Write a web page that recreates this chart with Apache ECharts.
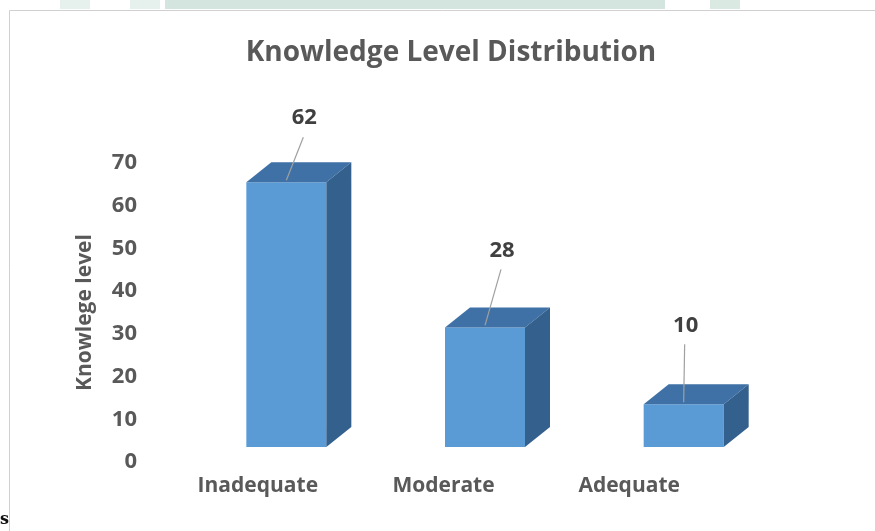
<!DOCTYPE html>
<html>
<head>
<meta charset="utf-8">
<script src="https://cdn.jsdelivr.net/npm/echarts@6/dist/echarts.min.js"></script>
<style>
html,body{margin:0;padding:0;background:#fff;}
#chart{width:875px;height:531px;}
</style>
</head>
<body>
<div id="chart"></div>
<script>
// ---- data ----
const categories = ['Inadequate', 'Moderate', 'Adequate'];
const values = [62, 28, 10];
const yTicks = [0, 10, 20, 30, 40, 50, 60, 70];
const titleText = 'Knowledge Level Distribution';
const yAxisName = 'Knowlege level';

// ---- layout / style ----
const FONT = '"Open Sans", "Noto Sans", sans-serif';
const FRONT = '#5b9bd5', TOP = '#3f71a6', SIDE = '#34608e';
const BAR_W = 80, DX = 25, DY = -20, FLOOR_SHIFT = -15;
const labelNudge = [[18, -64], [17, -77], [2, -79]];

const chart = echarts.init(document.getElementById('chart'));

function renderItem(params, api) {
  const i = api.value(0);
  const v = api.value(1);
  const base = api.coord([i, 0]);
  const top = api.coord([i, v]);
  const cx = base[0];
  const x0 = cx - BAR_W / 2, x1 = cx + BAR_W / 2;
  const yb = base[1] + FLOOR_SHIFT, yt = top[1] + FLOOR_SHIFT;
  const lx = cx + labelNudge[i][0], ly = yt + labelNudge[i][1];
  return {
    type: 'group',
    children: [
      { type: 'polygon', shape: { points: [[x0, yt], [x1, yt], [x1, yb], [x0, yb]] }, style: { fill: FRONT } },
      { type: 'polygon', shape: { points: [[x0, yt], [x0 + DX, yt + DY], [x1 + DX, yt + DY], [x1, yt]] }, style: { fill: TOP } },
      { type: 'polygon', shape: { points: [[x1, yt], [x1 + DX, yt + DY], [x1 + DX, yb + DY], [x1, yb]] }, style: { fill: SIDE } },
      { type: 'line', shape: { x1: lx - 1, y1: ly + 19, x2: cx, y2: yt - 2 }, style: { stroke: '#a0a0a0', lineWidth: 1.2 } },
      { type: 'text', style: { text: String(v), x: lx, y: ly, align: 'center', verticalAlign: 'middle', fill: '#404040', font: 'bold 22px ' + FONT } }
    ]
  };
}

const option = {
  animation: false,
  backgroundColor: '#ffffff',
  title: {
    text: titleText,
    left: 446, top: 34, textAlign: 'center',
    textStyle: { fontFamily: FONT, fontWeight: 'bold', fontSize: 28, color: '#595959' }
  },
  grid: [
    { left: 187, right: 92, top: 163, bottom: 69 },
    { left: 165, right: 153, top: 163, bottom: 69 }
  ],
  xAxis: [
    { type: 'category', gridIndex: 0, data: categories, axisLine: { show: false }, axisTick: { show: false }, axisLabel: { show: false } },
    { type: 'category', gridIndex: 1, data: categories, axisLine: { show: false }, axisTick: { show: false },
      axisLabel: { margin: 14, color: '#595959', fontFamily: FONT, fontWeight: 'bold', fontSize: 21 } }
  ],
  yAxis: [
    { type: 'value', gridIndex: 0, min: 0, max: 70, interval: 10,
      axisLine: { show: false }, axisTick: { show: false }, splitLine: { show: false },
      axisLabel: { margin: 50, color: '#595959', fontFamily: FONT, fontWeight: 'bold', fontSize: 22,
        formatter: function (val) { return yTicks.indexOf(val) >= 0 ? String(val) : ''; } },
      name: yAxisName, nameLocation: 'middle', nameGap: 91, nameRotate: 90,
      nameTextStyle: { color: '#595959', fontFamily: FONT, fontWeight: 'bold', fontSize: 21 } },
    { type: 'value', gridIndex: 1, min: 0, max: 70, show: false }
  ],
  series: [{
    type: 'custom',
    xAxisIndex: 0, yAxisIndex: 0,
    renderItem: renderItem,
    data: values.map(function (v, i) { return [i, v]; }),
    clip: false
  }],
  graphic: [
    { type: 'rect', shape: { x: 165, y: 0, width: 500, height: 9 }, style: { fill: '#d3e5de' } },
    { type: 'rect', shape: { x: 60, y: 0, width: 30, height: 9 }, style: { fill: '#e6f0ec' } },
    { type: 'rect', shape: { x: 130, y: 0, width: 30, height: 9 }, style: { fill: '#e6f0ec' } },
    { type: 'rect', shape: { x: 710, y: 0, width: 30, height: 9 }, style: { fill: '#dbe9e3' } },
    { type: 'polyline', shape: { points: [[9.5, 531], [9.5, 10.5], [875, 10.5]] }, style: { stroke: '#d0d0d0', lineWidth: 1, fill: null } },
    { type: 'text', style: { text: 's', x: 0, y: 512, fill: '#111', font: 'bold 16px "DejaVu Serif", serif' } }
  ]
};
chart.setOption(option);
</script>
</body>
</html>
